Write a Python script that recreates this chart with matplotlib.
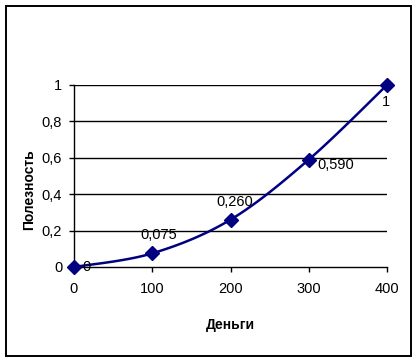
import matplotlib
matplotlib.use("Agg")

import numpy as np
import matplotlib.pyplot as plt
from matplotlib.patches import Rectangle

money = [0, 100, 200, 300, 400]
utility = [0, 0.075, 0.26, 0.59, 1]
point_labels = ["0", "0,075", "0,260", "0,590", "1"]
# offsets of the data labels, in points
label_offsets = [(6, 0), (5, 13), (3, 13), (6, -4), (-1, -12)]
label_align = [("left", "center"), ("center", "center"), ("center", "center"),
               ("left", "center"), ("center", "center")]

x_ticks = [0, 100, 200, 300, 400]
y_ticks = [0, 0.2, 0.4, 0.6, 0.8, 1]
y_tick_labels = ["0", "0,2", "0,4", "0,6", "0,8", "1"]

NAVY = "#000080"
FONT = ["Liberation Sans", "DejaVu Sans"]
SIZE = 10.5


def smooth_line(xs, ys, steps=30):
    # Excel style smoothing: cubic Bezier with Catmull-Rom control points
    pts = np.column_stack([xs, ys]).astype(float)
    ext = np.vstack([pts[0], pts, pts[-1]])
    out = []
    for i in range(len(pts) - 1):
        p0, p3 = ext[i + 1], ext[i + 2]
        p1 = p0 + (ext[i + 2] - ext[i]) / 6
        p2 = p3 - (ext[i + 3] - ext[i + 1]) / 6
        t = np.linspace(0, 1, steps)[:, None]
        seg = ((1 - t) ** 3 * p0 + 3 * (1 - t) ** 2 * t * p1
               + 3 * (1 - t) * t ** 2 * p2 + t ** 3 * p3)
        out.append(seg)
    curve = np.vstack(out)
    return curve[:, 0], curve[:, 1]


fig = plt.figure(figsize=(4.17, 3.63), dpi=100)
fig.patch.set_facecolor("white")
fig.patches.append(Rectangle((6 / 417, 1 - 356 / 363), 405 / 417, 350 / 363,
                             transform=fig.transFigure, fill=False,
                             edgecolor="black", linewidth=1.4))

ax = fig.add_axes([74 / 417, 96 / 363, 313 / 417, 182 / 363])
ax.set_xlim(0, 400)
ax.set_ylim(0, 1)

for yv in y_ticks[1:]:
    ax.axhline(yv, color="black", linewidth=1.0, zorder=1)

sx, sy = smooth_line(money, utility)
ax.plot(sx, sy, color=NAVY, linewidth=1.8, zorder=3, clip_on=False)
ax.plot(money, utility, linestyle="none", marker="D", markersize=7,
        color=NAVY, zorder=4, clip_on=False)

for xv, yv, txt, off, (ha, va) in zip(money, utility, point_labels,
                                      label_offsets, label_align):
    ax.annotate(txt, (xv, yv), xytext=off, textcoords="offset points",
                ha=ha, va=va, fontsize=SIZE, family=FONT, color="black",
                zorder=5)

ax.set_xticks(x_ticks)
ax.set_xticklabels([str(v) for v in x_ticks])
ax.set_yticks(y_ticks)
ax.set_yticklabels(y_tick_labels)
ax.tick_params(axis="both", direction="out", length=3.5, width=1,
               labelsize=SIZE, color="black")
ax.tick_params(axis="y", pad=5)
ax.tick_params(axis="x", pad=7)
for lbl in ax.get_xticklabels() + ax.get_yticklabels():
    lbl.set_family(FONT)

for side in ["top", "right"]:
    ax.spines[side].set_visible(False)
for side in ["left", "bottom"]:
    ax.spines[side].set_linewidth(1.0)

fig.text(230 / 417, 1 - 325 / 363, "Деньги", ha="center", va="center",
         fontsize=10, fontweight="bold", family=FONT)
fig.text(29 / 417, 1 - 190 / 363, "Полезность", ha="center", va="center",
         rotation=90, fontsize=10, fontweight="bold", family=FONT)

fig.savefig("out.png", dpi=100)
